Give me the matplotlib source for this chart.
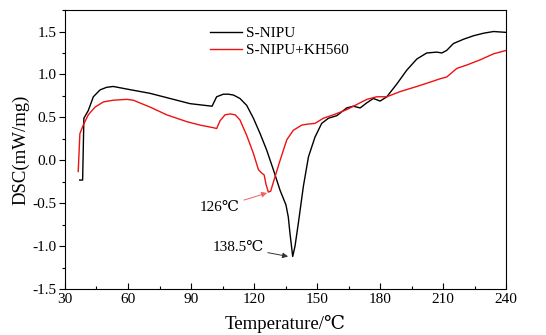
import numpy as np
import matplotlib
matplotlib.use("Agg")
import matplotlib.pyplot as plt
from matplotlib.ticker import MultipleLocator

plt.rcParams["font.family"] = ["Liberation Serif", "DejaVu Serif"]

# S-NIPU (black)
t_nipu = [37.0, 38.4, 39.0, 41.1, 43.5, 46.7, 49.8, 53.0, 59.4, 70.5, 81.6, 89.5, 100.0,
          102.2, 105.4, 107.8, 110.2, 113.3, 116.5, 119.7, 122.9, 126.0, 129.2, 132.4,
          135.2, 136.3, 137.1, 138.4, 139.5, 141.1, 143.5, 145.9, 149.0, 152.2, 155.4,
          159.4, 164.1, 167.3, 170.5, 173.7, 176.8, 180.0, 183.2, 188.0, 192.7, 197.5,
          202.2, 207.0, 209.4, 211.7, 214.9, 219.7, 224.4, 229.2, 234.0, 240.0]
dsc_nipu = [-0.23, -0.23, 0.49, 0.58, 0.74, 0.82, 0.85, 0.86, 0.83, 0.78, 0.71, 0.66, 0.63,
            0.74, 0.77, 0.77, 0.76, 0.72, 0.64, 0.49, 0.31, 0.12, -0.11, -0.35,
            -0.52, -0.66, -0.85, -1.12, -1.00, -0.73, -0.30, 0.04, 0.27, 0.43, 0.49,
            0.52, 0.61, 0.63, 0.61, 0.67, 0.72, 0.69, 0.74, 0.89, 1.05, 1.18,
            1.25, 1.26, 1.25, 1.28, 1.36, 1.41, 1.45, 1.48, 1.50, 1.49]

# S-NIPU+KH560 (red)
t_kh = [36.3, 37.1, 38.7, 41.1, 44.3, 48.3, 53.0, 59.4, 62.5, 70.5, 78.4, 88.0, 94.3,
        100.6, 102.2, 103.8, 106.2, 108.6, 111.0, 113.3, 116.5, 119.7, 122.1, 123.7,
        124.8, 125.7, 126.8, 127.9, 130.0, 132.4, 135.6, 138.7, 142.7, 145.1, 149.0,
        153.0, 157.8, 164.1, 168.9, 173.7, 178.4, 183.2, 189.5, 197.5, 203.8, 208.6,
        211.7, 216.5, 221.3, 227.6, 234.0, 240.0]
dsc_kh = [-0.13, 0.31, 0.41, 0.53, 0.62, 0.68, 0.70, 0.71, 0.70, 0.62, 0.53, 0.45, 0.41,
          0.38, 0.37, 0.46, 0.53, 0.54, 0.53, 0.47, 0.29, 0.08, -0.11, -0.15,
          -0.17, -0.28, -0.37, -0.36, -0.19, 0.0, 0.24, 0.35, 0.41, 0.42, 0.43,
          0.49, 0.53, 0.59, 0.65, 0.71, 0.74, 0.74, 0.80, 0.86, 0.91, 0.95,
          0.97, 1.07, 1.11, 1.17, 1.24, 1.28]

yticks = [-1.5, -1.0, -0.5, 0.0, 0.5, 1.0, 1.5]

fig, ax = plt.subplots(figsize=(5.46, 3.35), dpi=100)
fig.subplots_adjust(left=0.119, right=0.927, top=0.970, bottom=0.137)

ax.plot(t_nipu, dsc_nipu, color="black", lw=1.0, label="S-NIPU")
ax.plot(t_kh, dsc_kh, color="#ee1111", lw=1.0, label="S-NIPU+KH560")

ax.annotate("126℃", xy=(126.2, -0.38), xytext=(103.8, -0.55), fontsize=11,
            ha="center", va="center",
            arrowprops=dict(arrowstyle="-|>", color="#f06060", lw=0.7,
                            mutation_scale=8, shrinkA=1, shrinkB=0))
ax.annotate("138.5℃", xy=(136.2, -1.12), xytext=(112.4, -1.01), fontsize=11,
            ha="center", va="center",
            arrowprops=dict(arrowstyle="-|>", color="#333333", lw=0.7,
                            mutation_scale=8, shrinkA=1, shrinkB=0))

ax.set_xlim(30, 240)
ax.xaxis.set_major_locator(MultipleLocator(30))
ax.xaxis.set_minor_locator(MultipleLocator(15))
ax.yaxis.set_minor_locator(MultipleLocator(0.25))
ax.set_yticks(yticks)
ax.set_yticklabels([f"{v:.1f}" for v in yticks])
ax.set_ylim(-1.5, 1.75)
ax.tick_params(axis="x", which="both", direction="in", top=False, labelsize=11, pad=3)
ax.tick_params(axis="y", which="both", direction="out", right=False, labelsize=11, pad=2)
ax.tick_params(which="major", length=4, width=0.8)
ax.tick_params(which="minor", length=2.5, width=0.8)

ax.set_xlabel("Temperature/℃", fontsize=13.5, labelpad=6)
ax.set_ylabel("DSC(mW/mg)", fontsize=13.5, labelpad=2)

ax.legend(loc="upper left", bbox_to_anchor=(0.297, 0.99), frameon=False,
          fontsize=11, handlelength=2.1, handletextpad=0.3, labelspacing=0.2)

plt.savefig("out.png", dpi=100)
